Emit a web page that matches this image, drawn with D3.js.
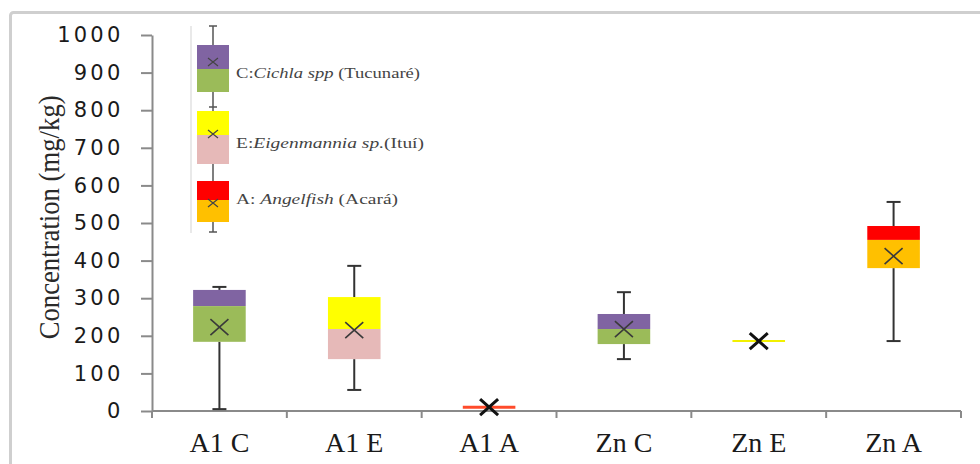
<!DOCTYPE html>
<html>
<head>
<meta charset="utf-8">
<script src="https://cdn.jsdelivr.net/npm/d3@7"></script>
<style>
  body { margin: 0; background: #fff; }
  svg { display: block; }
</style>
</head>
<body>
<div id="canvas"></div>
<script>
// --- data (mg/kg)
var categories  = ["A1 C", "A1 E", "A1 A", "Zn C", "Zn E", "Zn A"];
var whiskerLow  = [5,   56,  10, 138, 186, 186];
var q1          = [184, 138, 10, 178, 186, 380];
var median      = [279, 218, 10, 218, 186, 455];
var q3          = [322, 303, 10, 258, 186, 492];
var whiskerHigh = [330, 386, 10, 316, 186, 556];
var means       = [223, 215, 10, 218, 186, 412];
var group       = ["C", "E", "A", "C", "E", "A"];
var yTicks      = [0, 100, 200, 300, 400, 500, 600, 700, 800, 900, 1000];

// fish groups: upper half of box / lower half of box
var upperColor  = {C: "#8064a2", E: "#ffff00", A: "#ff0000"};
var lowerColor  = {C: "#9bbb59", E: "#e6b9b8", A: "#ffc000"};
var flatColor   = {C: "#8064a2", E: "#f2f000", A: "#ff4b2b"};
var legendText  = {
  C: [["C:", false], ["Cichla spp", true], [" (Tucunaré)", false]],
  E: [["E:", false], ["Eigenmannia  sp.", true], ["(Ituí)", false]],
  A: [["A: ", false], ["Angelfish", true], [" (Acará)", false]]
};

var W = 980, H = 464;
var M = {top: 35, left: 152, right: 19, bottom: 53};

var svg = d3.select("#canvas").append("svg")
  .attr("width", W).attr("height", H);

// outer frame
svg.append("rect")
  .attr("x", 10.5).attr("y", 12.5)
  .attr("width", 1000).attr("height", 500)
  .attr("rx", 3)
  .attr("fill", "none")
  .attr("stroke", "#cfcfcf")
  .attr("stroke-width", 3);

var x = d3.scaleBand().domain(categories).range([M.left, W - M.right]);
var y = d3.scaleLinear().domain([0, 1000]).range([H - M.bottom, M.top]);

var axisColor = "#8a8a8a";

// --- y axis
var yAxis = d3.axisLeft(y).tickValues(yTicks).tickFormat(d3.format("d"))
  .tickSize(11).tickSizeOuter(0).tickPadding(17.5);
var gy = svg.append("g").attr("transform", "translate(" + M.left + ",0)").call(yAxis);
gy.select(".domain").attr("stroke", axisColor).attr("stroke-width", 2);
gy.selectAll(".tick line").attr("stroke", axisColor).attr("stroke-width", 2);
gy.selectAll(".tick text")
  .attr("font-family", "DejaVu Sans, sans-serif")
  .attr("font-size", 21)
  .attr("letter-spacing", 3.2)
  .attr("fill", "#1a1a1a");

// --- x axis
var xAxis = d3.axisBottom(x).tickSize(0).tickPadding(21);
var gx = svg.append("g").attr("transform", "translate(0," + y(0) + ")").call(xAxis);
gx.select(".domain").remove();
gx.selectAll(".tick text")
  .attr("font-family", "Liberation Serif, serif")
  .attr("font-size", 28)
  .attr("fill", "#1a1a1a");
gx.append("line")
  .attr("x1", x.range()[0]).attr("x2", x.range()[1])
  .attr("stroke", axisColor).attr("stroke-width", 2);
gx.selectAll(".sep")
  .data(categories.map(function(c){ return x(c); }).concat([x.range()[1]]))
  .enter().append("line")
  .attr("x1", function(d){ return d; }).attr("x2", function(d){ return d; })
  .attr("y1", 0).attr("y2", 7)
  .attr("stroke", axisColor).attr("stroke-width", 2);

// y title
svg.append("text")
  .attr("transform", "translate(59," + y(515) + ") rotate(-90)")
  .attr("text-anchor", "middle")
  .attr("font-family", "Liberation Serif, serif")
  .attr("font-size", 30)
  .attr("textLength", 244)
  .attr("lengthAdjust", "spacingAndGlyphs")
  .attr("fill", "#2a2a2a")
  .text("Concentration (mg/kg)");

// --- boxes
var boxW = x.bandwidth() * 0.39, capW = 14;
var rows = categories.map(function(c, i){
  return {c: c, lo: whiskerLow[i], q1: q1[i], med: median[i], q3: q3[i],
          hi: whiskerHigh[i], mean: means[i], g: group[i]};
});
var plot = svg.append("g");

rows.forEach(function(d){
  var cx = x(d.c) + x.bandwidth() / 2;
  var g = plot.append("g");
  // whiskers
  if (d.hi > d.q3) {
    g.append("line").attr("x1", cx).attr("x2", cx).attr("y1", y(d.q3)).attr("y2", y(d.hi));
    g.append("line").attr("x1", cx - capW/2).attr("x2", cx + capW/2).attr("y1", y(d.hi)).attr("y2", y(d.hi));
  }
  if (d.lo < d.q1) {
    g.append("line").attr("x1", cx).attr("x2", cx).attr("y1", y(d.q1)).attr("y2", y(d.lo));
    g.append("line").attr("x1", cx - capW/2).attr("x2", cx + capW/2).attr("y1", y(d.lo)).attr("y2", y(d.lo));
  }
  g.selectAll("line").attr("stroke", "#333").attr("stroke-width", 2);

  if (d.q3 > d.q1) {
    g.append("rect").attr("x", cx - boxW/2).attr("width", boxW)
      .attr("y", y(d.q3)).attr("height", y(d.med) - y(d.q3))
      .attr("fill", upperColor[d.g]);
    g.append("rect").attr("x", cx - boxW/2).attr("width", boxW)
      .attr("y", y(d.med)).attr("height", y(d.q1) - y(d.med))
      .attr("fill", lowerColor[d.g]);
  } else {
    g.append("line").attr("x1", cx - boxW/2).attr("x2", cx + boxW/2)
      .attr("y1", y(d.med)).attr("y2", y(d.med))
      .attr("stroke", flatColor[d.g]).attr("stroke-width", d.g == "A" ? 3 : 2);
  }
  // mean marker
  var my = y(d.mean), sx = 9, sy = 8;
  var flat = d.q3 == d.q1;
  g.append("path")
    .attr("d", "M" + (cx - sx) + "," + (my - sy) + "L" + (cx + sx) + "," + (my + sy) +
               "M" + (cx - sx) + "," + (my + sy) + "L" + (cx + sx) + "," + (my - sy))
    .attr("stroke", flat ? "#111" : "#3a3a3a")
    .attr("stroke-width", flat ? 3 : 1.6)
    .attr("fill", "none");
});

// --- legend (a small box plot drawn as key)
var lg = svg.append("g");
var lx = 213, lw = 32;
var legendBoxes = [
  {k: "C", top: 45, mid: 69, bot: 92, mean: 62, ty: 78, len: 184},
  {k: "E", top: 111, mid: 135, bot: 164, mean: 134, ty: 148, len: 188},
  {k: "A", top: 181, mid: 200, bot: 222, mean: 203, ty: 204, len: 162}
];
lg.append("line").attr("x1", 191).attr("x2", 191).attr("y1", 26).attr("y2", 233)
  .attr("stroke", "#e2e2e2").attr("stroke-width", 1.5);
lg.append("line").attr("x1", lx).attr("x2", lx).attr("y1", 26).attr("y2", 232)
  .attr("stroke", "#555").attr("stroke-width", 1.5);
[26, 107, 232].forEach(function(cy){
  lg.append("line").attr("x1", lx - 4).attr("x2", lx + 4).attr("y1", cy).attr("y2", cy)
    .attr("stroke", "#555").attr("stroke-width", 1.5);
});
legendBoxes.forEach(function(b){
  lg.append("rect").attr("x", lx - lw/2).attr("width", lw)
    .attr("y", b.top).attr("height", b.mid - b.top).attr("fill", upperColor[b.k]);
  lg.append("rect").attr("x", lx - lw/2).attr("width", lw)
    .attr("y", b.mid).attr("height", b.bot - b.mid).attr("fill", lowerColor[b.k]);
  lg.append("path")
    .attr("d", "M" + (lx - 5) + "," + (b.mean - 4) + "L" + (lx + 5) + "," + (b.mean + 4) +
               "M" + (lx - 5) + "," + (b.mean + 4) + "L" + (lx + 5) + "," + (b.mean - 4))
    .attr("stroke", "#444").attr("stroke-width", 1.2).attr("fill", "none");
  var t = lg.append("text")
    .attr("x", 236).attr("y", b.ty)
    .attr("font-family", "Liberation Serif, serif")
    .attr("font-size", 14.5)
    .attr("textLength", b.len)
    .attr("lengthAdjust", "spacingAndGlyphs")
    .attr("fill", "#444");
  legendText[b.k].forEach(function(p){
    t.append("tspan").attr("font-style", p[1] ? "italic" : "normal").text(p[0]);
  });
});
</script>
</body>
</html>
